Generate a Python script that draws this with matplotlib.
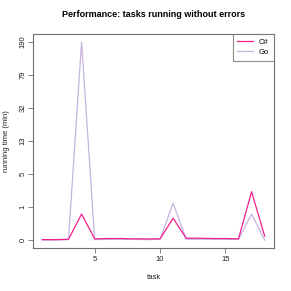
import numpy as np
import matplotlib
matplotlib.use("Agg")
import matplotlib.pyplot as plt

tasks = list(range(1, 19))
csharp = [0.01, 0.01, 0.02, 0.99, 0.03, 0.04, 0.04, 0.03, 0.03, 0.03, 0.78, 0.05, 0.05, 0.04, 0.04, 0.03, 2.6, 0.11]
golang = [0.0, 0.0, 0.01, 190.0, 0.01, 0.02, 0.02, 0.02, 0.01, 0.02, 1.65, 0.02, 0.02, 0.02, 0.02, 0.02, 0.99, 0.0]
series_names = ["C#", "Go"]
title = "Performance: tasks running without errors"
xlabel = "task"
ylabel = "running time (min)"

plt.rcParams['font.family'] = ['Liberation Sans', 'DejaVu Sans']

fwd = lambda v: np.log10(np.asarray(v, dtype=float) + 1)
inv = lambda t: 10 ** np.asarray(t, dtype=float) - 1

fig = plt.figure(figsize=(2.91, 2.91), dpi=100)
ax = fig.add_axes([0.115, 0.148, 0.825, 0.735])
ax.set_yscale('function', functions=(fwd, inv))

gray = '#6f6f6f'
ax.plot(tasks, golang, color='#C6B4E0', lw=0.9, label=series_names[1], zorder=2)
ax.plot(tasks, csharp, color='#F0208C', lw=0.9, label=series_names[0], zorder=3)

ymax = max(max(csharp), max(golang))
tmax = float(fwd(ymax))
ticks_t = np.linspace(0, tmax, 7)
ticks_v = inv(ticks_t)
ax.set_yticks(ticks_v)
ax.set_yticklabels([str(int(round(v))) for v in ticks_v], rotation=90, va='center')
ax.set_ylim(inv(-0.04 * tmax), inv(tmax * 1.04))
ax.set_xlim(1 - 0.04 * 17, 18 + 0.04 * 17)
ax.set_xticks([5, 10, 15])
ax.minorticks_off()

for s in ax.spines.values():
    s.set_color(gray)
    s.set_linewidth(0.8)
ax.tick_params(axis='both', direction='out', length=3.5, width=0.6, color=gray,
               labelsize=5.5, pad=2, labelcolor='#222222')
ax.tick_params(axis='y', pad=1.5)

ax.set_title(title, fontsize=6.5, fontweight='bold', pad=12)
ax.set_xlabel(xlabel, fontsize=5.5, labelpad=8, color='#222222')
ax.set_ylabel(ylabel, fontsize=5.5, labelpad=7, color='#222222')

h, l = ax.get_legend_handles_labels()
leg = ax.legend(h[::-1], l[::-1], loc='upper right', fontsize=5.5, frameon=True, fancybox=False,
                borderaxespad=0, handlelength=2.0, handletextpad=0.8, borderpad=0.6,
                labelspacing=0.35)
leg.get_frame().set_edgecolor(gray)
leg.get_frame().set_linewidth(0.8)

fig.savefig('out.png', dpi=100)
